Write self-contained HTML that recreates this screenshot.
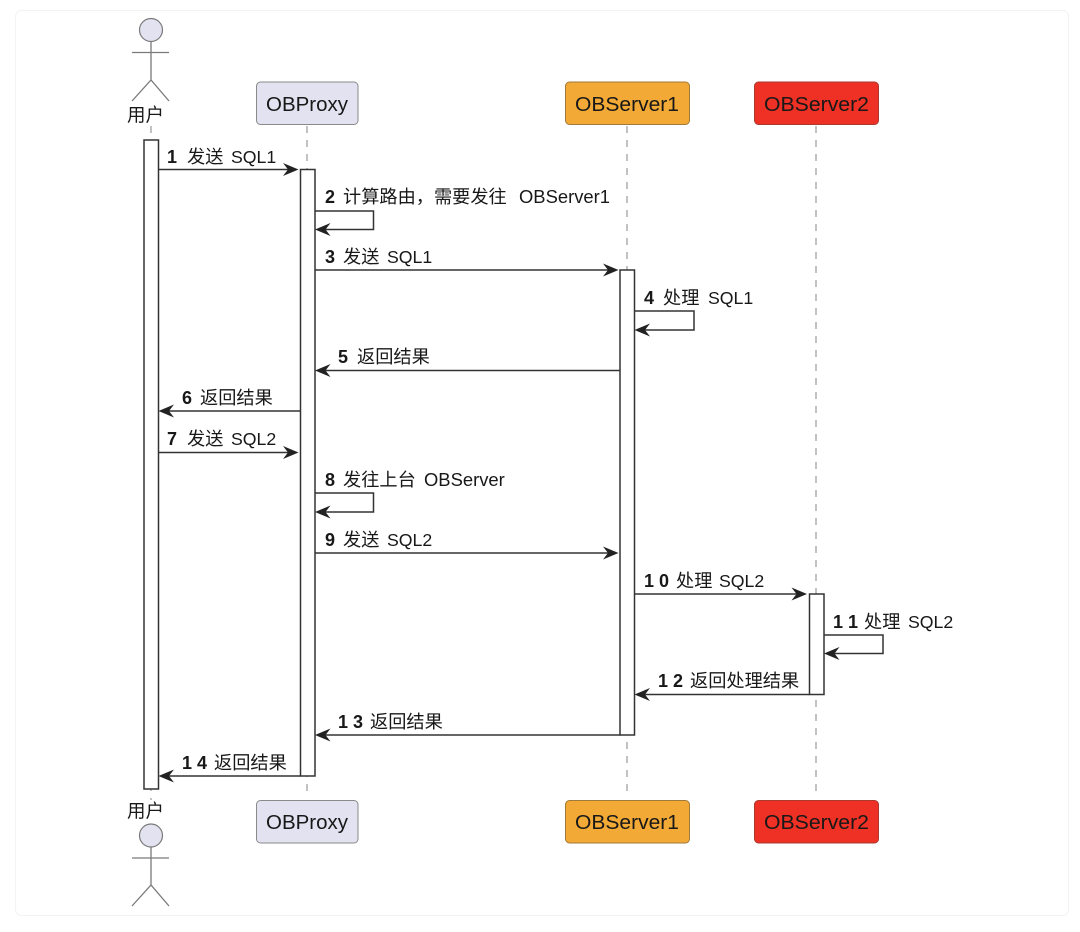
<!DOCTYPE html>
<html>
<head>
<meta charset="utf-8">
<style>
html,body{margin:0;padding:0;background:#fff;width:1080px;height:932px;overflow:hidden}
svg{display:block;filter:blur(0.3px)}
text{font-family:"Liberation Sans","Noto Sans CJK SC",sans-serif;fill:#181818}
.m{font-size:18.2px}
.n{font-weight:bold;font-size:18px}
.l{font-size:18.4px}
.q{font-size:17.7px}
.b{font-size:20px}
.a{font-size:18.5px}
.ll{stroke:#8f8f8f;stroke-width:1.1;stroke-dasharray:7 7;fill:none}
.act{fill:#fff;stroke:#333;stroke-width:1.5}
.ln{stroke:#333;stroke-width:1.5;fill:none}
.ah{fill:#222;stroke:none}
.actor{stroke:#7a7a7a;stroke-width:1.3;fill:none}
.box{stroke-width:1}
</style>
</head>
<body>
<svg width="1080" height="932" viewBox="0 0 1080 932" xmlns="http://www.w3.org/2000/svg">
<defs>
<path id="ar" class="ah" d="M0 0 L-15.5 -6.5 L-10.5 0 L-15.5 6.5 Z"/>
<path id="al" class="ah" d="M0 0 L15.5 -6.5 L10.5 0 L15.5 6.5 Z"/>
</defs>

<rect x="15.5" y="10.5" width="1053" height="905" rx="6" fill="#fff" stroke="#f3f3f3" stroke-width="1.2"/>

<!-- lifelines -->
<line class="ll" x1="151" y1="126" x2="151" y2="800"/>
<line class="ll" x1="307" y1="126" x2="307" y2="798"/>
<line class="ll" x1="627" y1="126" x2="627" y2="798"/>
<line class="ll" x1="816" y1="126" x2="816" y2="798"/>

<!-- top actor -->
<circle cx="151" cy="30" r="11.5" fill="#e2e2f0" stroke="#7a7a7a" stroke-width="1.2"/>
<path class="actor" d="M151 41.5V80M132 52.5H169M132 101L151 80L169 101"/>
<text class="a" x="127" y="121.5">用户</text>

<!-- bottom actor -->
<text class="a" x="127" y="817.5">用户</text>
<circle cx="151" cy="835.5" r="11.5" fill="#e2e2f0" stroke="#7a7a7a" stroke-width="1.2"/>
<path class="actor" d="M151 847V885M132 858H169M132 906L151 885L169 906"/>

<!-- top boxes -->
<rect class="box" x="256.5" y="82" width="101.5" height="42.5" rx="4" fill="#e2e2f0" stroke="#8a8a8a"/>
<text class="b" x="266" y="111" textLength="82" lengthAdjust="spacingAndGlyphs">OBProxy</text>
<rect class="box" x="565.5" y="82" width="124" height="42.5" rx="4" fill="#f2a935" stroke="#a07a3a"/>
<text class="b" x="575" y="111" textLength="104" lengthAdjust="spacingAndGlyphs">OBServer1</text>
<rect class="box" x="754.5" y="82" width="124" height="42.5" rx="4" fill="#ee3124" stroke="#a83a30"/>
<text class="b" x="764" y="111" textLength="105" lengthAdjust="spacingAndGlyphs">OBServer2</text>

<!-- bottom boxes -->
<rect class="box" x="256.5" y="800.5" width="101.5" height="42.5" rx="4" fill="#e2e2f0" stroke="#8a8a8a"/>
<text class="b" x="266" y="829" textLength="82" lengthAdjust="spacingAndGlyphs">OBProxy</text>
<rect class="box" x="565.5" y="800.5" width="124" height="42.5" rx="4" fill="#f2a935" stroke="#a07a3a"/>
<text class="b" x="575" y="829" textLength="104" lengthAdjust="spacingAndGlyphs">OBServer1</text>
<rect class="box" x="754.5" y="800.5" width="124" height="42.5" rx="4" fill="#ee3124" stroke="#a83a30"/>
<text class="b" x="764" y="829" textLength="105" lengthAdjust="spacingAndGlyphs">OBServer2</text>

<!-- activations -->
<rect class="act" x="144" y="140" width="14.5" height="649"/>
<rect class="act" x="300.5" y="169.5" width="14.5" height="606.5"/>
<rect class="act" x="620" y="270" width="14.5" height="465"/>
<rect class="act" x="809.5" y="594" width="14.5" height="100.5"/>

<!-- connectors -->
<line class="ln" x1="158.5" y1="169.5" x2="296" y2="169.5"/><use href="#ar" x="298.5" y="169.5"/>
<path class="ln" d="M315 211H373.5V229.5H318"/><use href="#al" x="315" y="229.5"/>
<line class="ln" x1="315" y1="270" x2="616" y2="270"/><use href="#ar" x="618.5" y="270"/>
<path class="ln" d="M634.5 311H694V330H637"/><use href="#al" x="634.5" y="330"/>
<line class="ln" x1="620" y1="370.5" x2="318" y2="370.5"/><use href="#al" x="315" y="370.5"/>
<line class="ln" x1="300.5" y1="411" x2="161" y2="411"/><use href="#al" x="158.5" y="411"/>
<line class="ln" x1="158.5" y1="452.5" x2="296" y2="452.5"/><use href="#ar" x="298.5" y="452.5"/>
<path class="ln" d="M315 493H373.5V512H318"/><use href="#al" x="315" y="512"/>
<line class="ln" x1="315" y1="553" x2="616" y2="553"/><use href="#ar" x="618.5" y="553"/>
<line class="ln" x1="634.5" y1="594" x2="804" y2="594"/><use href="#ar" x="807" y="594"/>
<path class="ln" d="M824 635H883V653.5H827"/><use href="#al" x="824" y="653.5"/>
<line class="ln" x1="809.5" y1="694.5" x2="637" y2="694.5"/><use href="#al" x="634.5" y="694.5"/>
<line class="ln" x1="620" y1="735" x2="318" y2="735"/><use href="#al" x="315" y="735"/>
<line class="ln" x1="300.5" y1="776" x2="161" y2="776"/><use href="#al" x="158.5" y="776"/>

<!-- labels -->
<text class="m" y="163"><tspan class="n" x="167">1</tspan><tspan x="187">发送</tspan><tspan class="q" x="231">SQL1</tspan></text>
<text class="m" y="203"><tspan class="n" x="325">2</tspan><tspan x="343">计算路由，需要发往</tspan><tspan class="l" x="519">OBServer1</tspan></text>
<text class="m" y="263"><tspan class="n" x="325">3</tspan><tspan x="343">发送</tspan><tspan class="q" x="387">SQL1</tspan></text>
<text class="m" y="304"><tspan class="n" x="644">4</tspan><tspan x="663">处理</tspan><tspan class="q" x="708">SQL1</tspan></text>
<text class="m" y="363"><tspan class="n" x="338">5</tspan><tspan x="357">返回结果</tspan></text>
<text class="m" y="404"><tspan class="n" x="182">6</tspan><tspan x="200">返回结果</tspan></text>
<text class="m" y="445"><tspan class="n" x="167">7</tspan><tspan x="187">发送</tspan><tspan class="q" x="231">SQL2</tspan></text>
<text class="m" y="486"><tspan class="n" x="325">8</tspan><tspan x="343">发往上台</tspan><tspan class="l" x="424">OBServer</tspan></text>
<text class="m" y="546"><tspan class="n" x="325">9</tspan><tspan x="343">发送</tspan><tspan class="q" x="387">SQL2</tspan></text>
<text class="m" y="587"><tspan class="n" x="644">1</tspan><tspan class="n" x="659">0</tspan><tspan x="676">处理</tspan><tspan class="q" x="719">SQL2</tspan></text>
<text class="m" y="628"><tspan class="n" x="833">1</tspan><tspan class="n" x="848">1</tspan><tspan x="864">处理</tspan><tspan class="q" x="908">SQL2</tspan></text>
<text class="m" y="687"><tspan class="n" x="658">1</tspan><tspan class="n" x="673">2</tspan><tspan x="690">返回处理结果</tspan></text>
<text class="m" y="728"><tspan class="n" x="338">1</tspan><tspan class="n" x="353">3</tspan><tspan x="370">返回结果</tspan></text>
<text class="m" y="769"><tspan class="n" x="182">1</tspan><tspan class="n" x="197">4</tspan><tspan x="214">返回结果</tspan></text>
</svg>
</body>
</html>
